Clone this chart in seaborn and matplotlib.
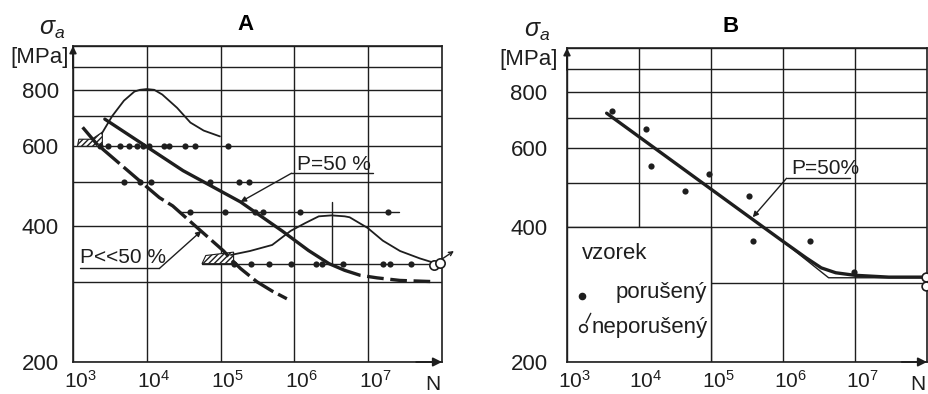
import matplotlib
matplotlib.use('Agg')
import matplotlib.pyplot as plt
import matplotlib.transforms as mtransforms
from matplotlib.patches import Polygon, Rectangle
from matplotlib.ticker import NullLocator, NullFormatter
import seaborn as sns

sns.set_theme(style='white')
plt.rcParams['font.family'] = ['Liberation Sans', 'DejaVu Sans']
plt.rcParams['mathtext.fontset'] = 'custom'
plt.rcParams['mathtext.rm'] = 'Liberation Sans'
plt.rcParams['mathtext.it'] = 'Liberation Sans:italic'
plt.rcParams['mathtext.bf'] = 'Liberation Sans:bold'
plt.rcParams['hatch.linewidth'] = 1.0

INK = '#1e1e1e'

# ---------------- data : panel A ----------------
x_tick_vals = [1e3, 1e4, 1e5, 1e6, 1e7]
x_tick_labels = [r'$\mathregular{10^{3}}$', r'$\mathregular{10^{4}}$', r'$\mathregular{10^{5}}$',
                 r'$\mathregular{10^{6}}$', r'$\mathregular{10^{7}}$']
y_tick_vals = [200, 400, 600, 800]
y_tick_labels = ['200', '400', '600', '800']
y_grid_minor = [300, 500, 700, 900, 1000]

a_n_600 = [2.3e3, 3.0e3, 4.4e3, 5.8e3, 7.4e3, 8.9e3, 1.07e4, 1.7e4, 2.0e4, 3.3e4, 4.5e4, 1.26e5]
a_s_600 = [600] * len(a_n_600)
a_n_500 = [4.9e3, 8.1e3, 1.15e4, 7.2e4, 1.8e5, 2.45e5]
a_s_500 = [500] * len(a_n_500)
a_n_430 = [3.8e4, 1.15e5, 2.95e5, 3.8e5, 1.2e6, 1.86e7]
a_s_430 = [430] * len(a_n_430)
a_line430_n = [2.8e4, 2.6e7]
a_line430_s = [430, 430]
a_n_330 = [1.5e5, 2.6e5, 4.5e5, 9.1e5, 1.95e6, 2.4e6, 4.5e6, 1.6e7, 2.0e7, 3.8e7]
a_s_330 = [330] * len(a_n_330)
a_line330_n = [5.6e4, 9.0e7]
a_line330_s = [329, 329]
a_open_n = [7.9e7, 9.4e7]
a_open_s = [328, 331]

# P = 50 % curve (solid part, then dashed tail)
a_p50_n = [2.7e3, 3.1e4, 1.86e5, 6.8e5, 1.55e6, 2.95e6, 4.8e6]
a_p50_s = [689, 530, 452, 390, 353, 330, 319]
a_p50_tail_n = [4.8e6, 7.8e6, 1.32e7, 2.7e7, 8.5e7]
a_p50_tail_s = [319, 311, 307, 303, 301]

# P << 50 % curve (dashed)
a_plow_n = [1.35e3, 2.1e3, 7.8e3, 1.48e4, 2.24e4, 5.4e4, 1.1e5, 1.48e5, 1.86e5, 3.1e5, 5.0e5, 7.9e5]
a_plow_s = [661, 607, 505, 462, 443, 390, 352, 334, 322, 301, 287, 276]

# distribution curve at 600 MPa
a_bell1_n = [2.45e3, 3.4e3, 4.9e3, 6.8e3, 8.1e3, 1.0e4, 1.26e4, 1.62e4, 2.57e4, 3.9e4, 5.9e4, 9.8e4]
a_bell1_s = [640, 700, 757, 793, 800, 803, 800, 781, 730, 677, 650, 631]

# distribution curve at 330 MPa
a_bell2_n = [1.38e5, 2.5e5, 5.0e5, 8.9e5, 1.41e6, 2.14e6, 3.2e6, 4.8e6, 5.6e6, 9.8e6, 1.58e7, 2.7e7, 5.0e7, 8.5e7]
a_bell2_s = [345, 352, 363, 390, 406, 420, 422, 420, 418, 396, 371, 352, 339, 330]
a_mode_n = [3.2e6, 3.2e6]
a_mode_s = [330, 452]

# ---------------- data : panel B ----------------
b_fail_n = [4.2e3, 1.26e4, 1.45e4, 9.3e4, 4.3e4, 3.4e5, 3.8e5, 2.35e6, 9.8e6]
b_fail_s = [724, 661, 546, 523, 480, 468, 372, 372, 318]
b_run_n = [9.8e7, 9.8e7]
b_run_s = [309, 295]
b_curve_n = [3.55e3, 2.6e5, 9.8e5, 2.1e6, 3.4e6, 5.4e6, 9.8e6, 2.95e7, 1.0e8]
b_curve_s = [716, 434, 372, 341, 324, 316, 312, 309, 309]
b_ideal_n = [9.8e5, 4.3e6, 1.0e8]
b_ideal_s = [372, 308, 308]

fig = plt.figure(figsize=(9.29, 3.94), dpi=100)
fig.patch.set_facecolor('white')
axA = fig.add_axes([73 / 929, 32 / 394, 369 / 929, 316 / 394])
axB = fig.add_axes([567 / 929, 32 / 394, 360 / 929, 314 / 394])


def setup(ax, ypad):
    ax.set_xscale('log')
    ax.set_yscale('log')
    ax.set_xlim(1e3, 1e8)
    ax.set_ylim(200, 1000)
    ax.set_facecolor('white')
    ax.set_xticks(x_tick_vals)
    ax.set_xticklabels(x_tick_labels)
    ax.xaxis.set_minor_locator(NullLocator())
    ax.set_yticks(y_tick_vals)
    ax.set_yticklabels(y_tick_labels)
    ax.set_yticks(y_grid_minor, minor=True)
    ax.yaxis.set_minor_formatter(NullFormatter())
    ax.grid(which='both', color=INK, lw=1.0)
    ax.set_axisbelow(True)
    ax.tick_params(axis='both', which='both', length=0, colors=INK)
    ax.tick_params(axis='x', labelsize=15, pad=6)
    ax.tick_params(axis='y', labelsize=16, pad=ypad)
    for sp in ax.spines.values():
        sp.set_color(INK)
        sp.set_linewidth(1.2)
    for lab in ax.get_xticklabels():
        lab.set_transform(lab.get_transform() + mtransforms.ScaledTranslation(0.07, 0, fig.dpi_scale_trans))
    ax.set_xlabel('')
    ax.set_ylabel('')
    ax.text(0.976, -0.04, 'N', transform=ax.transAxes, ha='center', va='top', fontsize=15, color=INK)
    ax.annotate('', xy=(1.0, 0), xytext=(0.93, 0), xycoords='axes fraction',
                arrowprops=dict(arrowstyle='-|>', color=INK, lw=1.3, mutation_scale=13,
                                shrinkA=0, shrinkB=0), annotation_clip=False)
    ax.annotate('', xy=(0, 1.0), xytext=(0, 0.93), xycoords='axes fraction',
                arrowprops=dict(arrowstyle='-|>', color=INK, lw=1.3, mutation_scale=10,
                                shrinkA=0, shrinkB=0), annotation_clip=False)


setup(axA, 10)
setup(axB, 14)


def line(ax, xs, ys, lw, dashes=None, z=3):
    sns.lineplot(x=xs, y=ys, ax=ax, sort=False, estimator=None, color=INK, lw=lw, zorder=z)
    ln = ax.lines[-1]
    if dashes is not None:
        ln.set_dashes(dashes)
    return ln


def dots(ax, xs, ys, s=20, open_=False, clip=True):
    if open_:
        sns.scatterplot(x=xs, y=ys, ax=ax, s=s, facecolor='white', edgecolor=INK,
                        linewidth=1.2, zorder=6, clip_on=clip)
    else:
        sns.scatterplot(x=xs, y=ys, ax=ax, s=s, color=INK, edgecolor=INK,
                        linewidth=0, zorder=6, clip_on=clip)


# ---------------- panel A ----------------
axA.add_patch(Polygon([(1.15e3, 600), (2.5e3, 600), (2.5e3, 645), (1.8e3, 622), (1.2e3, 622)],
                      closed=True, facecolor='white', edgecolor=INK, hatch='//////', lw=0.8, zorder=2.5))
axA.add_patch(Polygon([(5.6e4, 330), (1.5e5, 330), (1.5e5, 350), (6.3e4, 344)],
                      closed=True, facecolor='white', edgecolor=INK, hatch='//////', lw=0.8, zorder=2.5))

line(axA, a_line430_n, a_line430_s, 1.0)
line(axA, a_line330_n, a_line330_s, 1.0)
line(axA, a_bell1_n, a_bell1_s, 1.3)
line(axA, a_bell2_n, a_bell2_s, 1.3)
line(axA, a_mode_n, a_mode_s, 1.0)
line(axA, a_p50_n, a_p50_s, 2.4)
line(axA, a_p50_tail_n, a_p50_tail_s, 2.4, dashes=[5, 2])
line(axA, a_plow_n, a_plow_s, 2.4, dashes=[7, 1.6])

dots(axA, a_n_600, a_s_600)
dots(axA, a_n_500, a_s_500)
dots(axA, a_n_430, a_s_430)
dots(axA, a_n_330, a_s_330)
dots(axA, a_open_n, a_open_s, s=45, open_=True, clip=False)
axA.annotate('', xy=(1.45e8, 352), xytext=(9.0e7, 334),
             arrowprops=dict(arrowstyle='->', color=INK, lw=1.0, mutation_scale=7, shrinkA=0, shrinkB=0),
             annotation_clip=False)

# labels / leaders A
axA.text(10 ** 6.03, 532, 'P=50 %', fontsize=15, color=INK, ha='left', va='baseline')
axA.plot([10 ** 5.96, 10 ** 7.07], [523, 523], color=INK, lw=1.0)
axA.annotate('', xy=(10 ** 5.27, 452), xytext=(10 ** 5.96, 523),
             arrowprops=dict(arrowstyle='-|>', color=INK, lw=1.0, mutation_scale=8, shrinkA=0, shrinkB=0))
axA.text(10 ** 3.09, 331, 'P<<50 %', fontsize=15, color=INK, ha='left', va='baseline')
axA.plot([10 ** 3.09, 10 ** 4.17], [322, 322], color=INK, lw=1.0)
axA.annotate('', xy=(10 ** 4.74, 390), xytext=(10 ** 4.17, 322),
             arrowprops=dict(arrowstyle='-|>', color=INK, lw=1.0, mutation_scale=8, shrinkA=0, shrinkB=0))

# ---------------- panel B ----------------
axB.add_patch(Rectangle((1e3, 200), 1e5 - 1e3, 200, facecolor='white', edgecolor=INK, lw=1.0, zorder=1.5))
line(axB, b_ideal_n, b_ideal_s, 1.0)
line(axB, b_curve_n, b_curve_s, 2.4)
dots(axB, b_fail_n, b_fail_s)
dots(axB, b_run_n, b_run_s, s=40, open_=True, clip=False)

axB.text(10 ** 6.12, 525, 'P=50%', fontsize=15, color=INK, ha='left', va='baseline')
axB.plot([10 ** 6.05, 10 ** 6.93], [513, 513], color=INK, lw=1.0)
axB.annotate('', xy=(10 ** 5.58, 420), xytext=(10 ** 6.05, 513),
             arrowprops=dict(arrowstyle='-|>', color=INK, lw=1.0, mutation_scale=8, shrinkA=0, shrinkB=0))

# legend inside the box
axB.text(0.042, 0.347, 'vzorek', transform=axB.transAxes, fontsize=16, color=INK, ha='left', va='center')
axB.scatter([0.042], [0.21], transform=axB.transAxes, s=20, color=INK, zorder=6)
axB.text(0.39, 0.22, 'porušený', transform=axB.transAxes, fontsize=16, color=INK, ha='right', va='center')
axB.scatter([0.045], [0.108], transform=axB.transAxes, s=30, facecolor='white', edgecolor=INK,
            linewidth=1.2, zorder=6)
axB.plot([0.053, 0.066], [0.125, 0.155], transform=axB.transAxes, color=INK, lw=1.0)
axB.text(0.392, 0.111, 'neporušený', transform=axB.transAxes, fontsize=16, color=INK, ha='right', va='center')

# ---------------- titles and axis labels ----------------
fig.text(245 / 929, 1 - 25 / 394, 'A', ha='center', va='center', fontsize=16, fontweight='bold', color='black')
fig.text(731 / 929, 1 - 27 / 394, 'B', ha='center', va='center', fontsize=16, fontweight='bold', color='black')
fig.text(52 / 929, 1 - 29 / 394, r'$\sigma_{a}$', ha='center', va='center', fontsize=18, color=INK)
fig.text(40 / 929, 1 - 57 / 394, '[MPa]', ha='center', va='center', fontsize=16, color=INK)
fig.text(537 / 929, 1 - 31 / 394, r'$\sigma_{a}$', ha='center', va='center', fontsize=18, color=INK)
fig.text(529 / 929, 1 - 60 / 394, '[MPa]', ha='center', va='center', fontsize=16, color=INK)

fig.savefig('out.png', dpi=100, facecolor='white')
